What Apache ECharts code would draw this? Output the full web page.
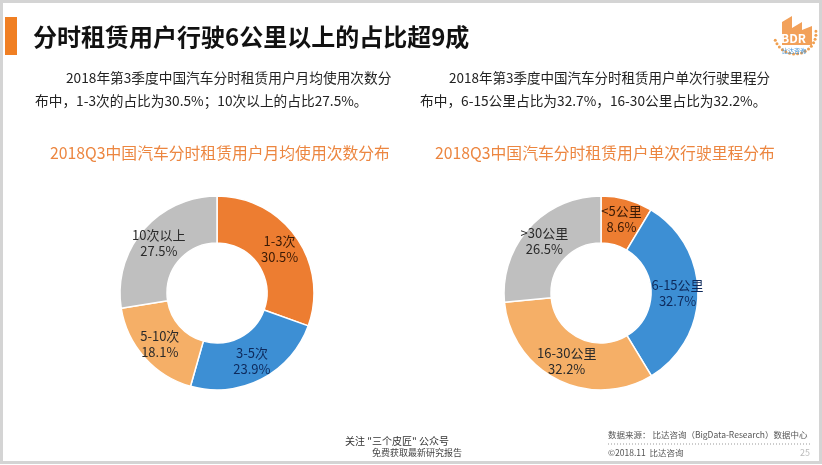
<!DOCTYPE html>
<html><head><meta charset="utf-8">
<script src="https://cdn.jsdelivr.net/npm/echarts@6/dist/echarts.min.js"></script>
<style>html,body{margin:0;padding:0;background:#fff;}#c{width:822px;height:465px;}</style>
</head><body><div id="c"></div>
<script>
const leftCategories = ['1-3次', '3-5次', '5-10次', '10次以上'];
const leftValues = [30.5, 23.9, 18.1, 27.5];
const rightCategories = ['<5公里', '6-15公里', '16-30公里', '>30公里'];
const rightValues = [8.6, 32.7, 32.2, 26.5];
const sliceColors = ['#ED7D31', '#3D8FD4', '#F5AF67', '#BFBFBF'];
const labelColors = ['#3a1a05', '#0e2a5c', '#2a2a2a', '#2a2a2a'];

const FONT = '"Noto Sans CJK SC", "Noto Sans", sans-serif';
const chart = echarts.init(document.getElementById('c'));

function pieData(cats, vals) {
  return cats.map((c, i) => ({
    name: c, value: vals[i],
    itemStyle: { color: sliceColors[i] },
    label: { color: labelColors[i] }
  }));
}
function pieSeries(cx, cats, vals) {
  return {
    type: 'pie', center: [cx, 293], radius: [50, 97], startAngle: 90, clockwise: true,
    silent: true, animation: false,
    itemStyle: { borderColor: '#fff', borderWidth: 1.5 },
    label: { show: true, position: 'inside', formatter: '{b}\n{c}%', fontSize: 13, lineHeight: 16, fontFamily: FONT },
    labelLine: { show: false },
    emphasis: { disabled: true },
    data: pieData(cats, vals)
  };
}

const txt = (x, y, text, size, color, extra) => Object.assign({
  type: 'text', x: x, y: y, silent: true,
  style: Object.assign({ text: text, fontSize: size, fill: color, fontFamily: FONT, textVerticalAlign: 'middle' }, extra || {})
});

// logo dots
const logoDots = [];
for (let k = 0; k < 16; k++) {
  const a = (200 + k * 11) * Math.PI / 180;
  logoDots.push({ type: 'circle', silent: true, shape: { cx: 795 + 21 * Math.cos(a), cy: 33 - 21 * Math.sin(a), r: 1.5 }, style: { fill: '#F0A050' } });
}

chart.setOption({
  animation: false,
  series: [pieSeries(217, leftCategories, leftValues), pieSeries(601, rightCategories, rightValues)],
  graphic: [
    { type: 'rect', silent: true, shape: { x: 1.5, y: 1.5, width: 819, height: 461 }, style: { fill: 'none', stroke: '#d4d4d4', lineWidth: 3 } },
    { type: 'rect', silent: true, shape: { x: 5, y: 17, width: 12, height: 38 }, style: { fill: '#F07F23' } },
    txt(33, 37, '分时租赁用户行驶6公里以上的占比超9成', 24, '#111', { fontWeight: 'bold' }),
    txt(66, 78, '2018年第3季度中国汽车分时租赁用户月均使用次数分', 13.7, '#222'),
    txt(35, 101, '布中，1-3次的占比为30.5%；10次以上的占比27.5%。', 13.7, '#222'),
    txt(449, 78, '2018年第3季度中国汽车分时租赁用户单次行驶里程分', 13.5, '#222'),
    txt(420, 101, '布中，6-15公里占比为32.7%，16-30公里占比为32.2%。', 13.7, '#222'),
    txt(50, 153, '2018Q3中国汽车分时租赁用户月均使用次数分布', 15.8, '#EC8640'),
    txt(435, 153, '2018Q3中国汽车分时租赁用户单次行驶里程分布', 15.8, '#EC8640'),
    txt(608, 435, '数据来源： 比达咨询（BigData-Research）数据中心', 8.5, '#555'),
    { type: 'line', silent: true, shape: { x1: 608, y1: 444, x2: 812, y2: 444 }, style: { stroke: '#999', lineWidth: 1, lineDash: [1, 2] } },
    txt(608, 453, '©2018.11  比达咨询', 8.5, '#555'),
    txt(800, 453, '25', 9, '#bbb'),
    txt(345, 441, '关注 "三个皮匠" 公众号', 10, '#333', { fontFamily: '"Noto Sans CJK SC"' }),
    txt(372, 453, '免费获取最新研究报告', 9, '#444'),
    ...logoDots,
    { type: 'polygon', silent: true, shape: { points: [[782, 45], [782, 22], [792, 16], [792, 28], [802, 22], [802, 30], [812, 26], [812, 45]] }, style: { fill: '#F2A15A' } },
    txt(781, 38, 'BDR', 12, '#fff', { fontWeight: 'bold' }),
    txt(782, 51, '比达咨询', 6, '#3D8FD4')
  ]
});
</script></body></html>
